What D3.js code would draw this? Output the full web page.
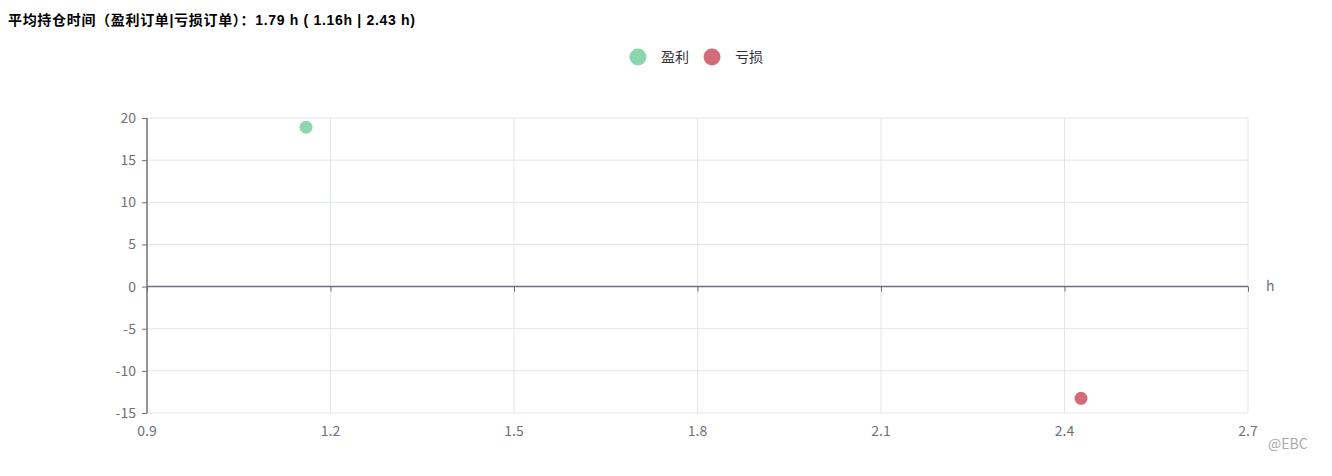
<!DOCTYPE html>
<html><head><meta charset="utf-8">
<script src="https://cdn.jsdelivr.net/npm/d3@7"></script>
<style>body{margin:0;background:#fff;}svg{display:block;font-family:"Noto Sans CJK SC","Noto Sans",sans-serif;}</style>
</head><body><svg id="c" width="1332" height="476"></svg>
<script>
const seriesNames = ["盈利", "亏损"];
const seriesColors = ["#8dd5ad", "#d46b79"];
const xValues = [1.16, 2.427];
const yValues = [18.9, -13.26];
const xTicks = [0.9, 1.2, 1.5, 1.8, 2.1, 2.4, 2.7];
const yTicks = [20, 15, 10, 5, 0, -5, -10, -15];
const titleText = "平均持仓时间（盈利订单|亏损订单）：1.79 h ( 1.16h | 2.43 h)";

const svg = d3.select("#c");
const x = d3.scaleLinear().domain([0.9, 2.7]).range([147, 1248]);
const y = d3.scaleLinear().domain([-15, 20]).range([413, 118]);
const fmtNum = d => String(d);

// title
svg.append("text").attr("x", 8).attr("y", 25).attr("font-size", 14).attr("font-weight", "bold")
  .attr("font-family", "\"Liberation Sans\",\"Noto Sans CJK SC\",sans-serif")
  .attr("textLength", 407).attr("lengthAdjust", "spacing")
  .attr("fill", "#000").text(titleText);

// legend
const lg = svg.append("g");
[[638, 661], [712, 735]].forEach((p, i) => {
  lg.append("circle").attr("cx", p[0]).attr("cy", 57).attr("r", 8.5).attr("fill", seriesColors[i]);
  lg.append("text").attr("x", p[1]).attr("y", 62).attr("font-size", 14).attr("fill", "#333").text(seriesNames[i]);
});

// grid
const grid = svg.append("g");
grid.selectAll(".gy").data(yTicks).join("line")
  .attr("x1", 147).attr("x2", 1248).attr("y1", d => y(d)).attr("y2", d => y(d))
  .attr("stroke", "#e0e6f1").attr("stroke-width", 1);
grid.selectAll(".gx").data(xTicks.slice(1)).join("line")
  .attr("y1", 118).attr("y2", 413).attr("x1", d => x(d)).attr("x2", d => x(d))
  .attr("stroke", "#e0e6f1").attr("stroke-width", 1);

// x axis at y=0
const xAxis = svg.append("g").attr("transform", `translate(0,${y(0)})`)
  .call(d3.axisBottom(x).tickValues(xTicks).tickSize(5).tickFormat(() => ""));
xAxis.select(".domain").attr("stroke", "#6e7079").attr("stroke-width", 1.5).attr("d", `M147,0H1248`);
xAxis.selectAll(".tick line").attr("stroke", "#6e7079");
// x labels at bottom
svg.append("g").selectAll("text").data(xTicks).join("text")
  .attr("x", d => x(d)).attr("y", 436).attr("text-anchor", "middle")
  .attr("font-size", 14).attr("fill", "#6e7079").text(d => d.toFixed(1));
svg.append("text").attr("x", 1266).attr("y", 291).attr("font-size", 14).attr("fill", "#6e7079").text("h");

// y axis
const yAxis = svg.append("g").attr("transform", "translate(147,0)")
  .call(d3.axisLeft(y).tickValues(yTicks).tickSize(5).tickPadding(6).tickFormat(fmtNum));
yAxis.select(".domain").attr("stroke", "#6e7079").attr("stroke-width", 1.5).attr("d", "M0,118V413");
yAxis.selectAll(".tick line").attr("stroke", "#6e7079");
yAxis.selectAll(".tick text").attr("font-size", 14).attr("fill", "#6e7079")
  .attr("font-family", "\"Noto Sans CJK SC\",\"Noto Sans\",sans-serif");

// points
svg.append("g").selectAll("circle").data(xValues).join("circle")
  .attr("cx", (d) => x(d)).attr("cy", (d, i) => y(yValues[i])).attr("r", 6.5)
  .attr("fill", (d, i) => seriesColors[i]);

// watermark
svg.append("text").attr("x", 1268).attr("y", 449).attr("font-size", 14).attr("fill", "#aaa").text("@EBC");
</script></body></html>
